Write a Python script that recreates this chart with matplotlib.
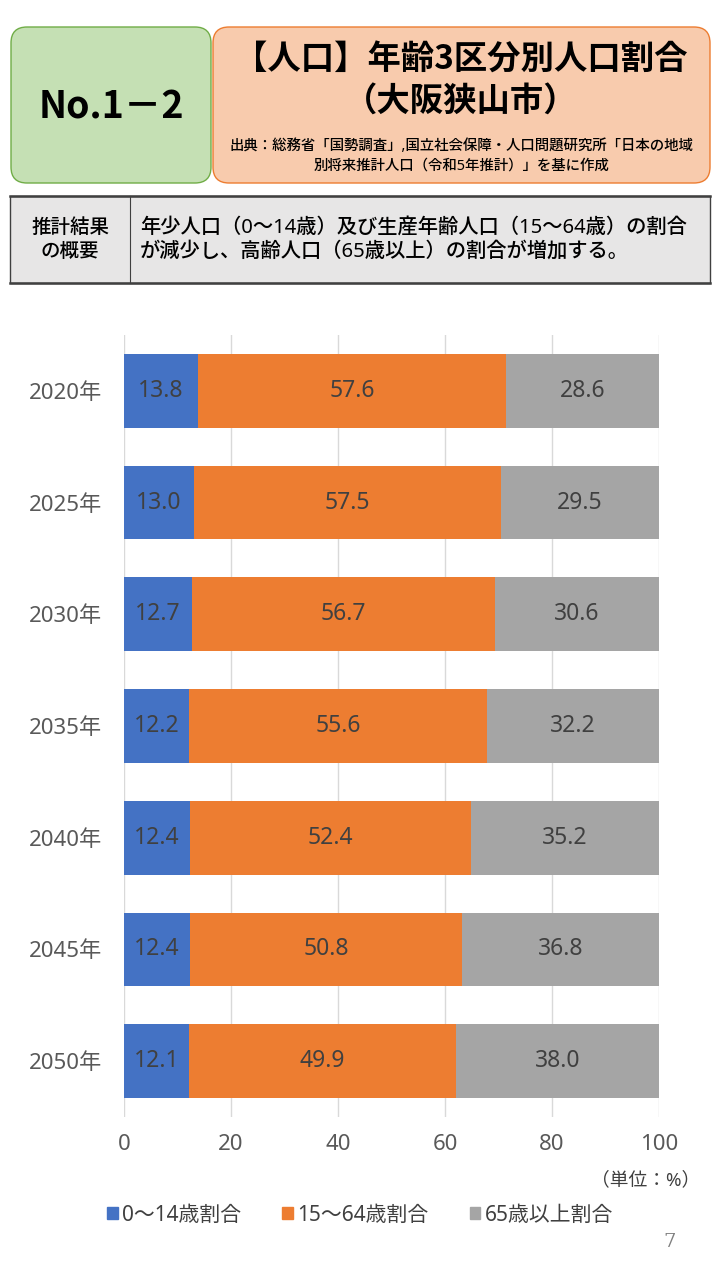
import matplotlib.pyplot as plt
from matplotlib.patches import FancyBboxPatch, Rectangle, Patch

plt.rcParams['font.family'] = ['Noto Sans', 'Noto Sans CJK JP', 'DejaVu Sans']
BOLD = ['Noto Sans CJK JP', 'DejaVu Sans']

# data
years = ['2020年', '2025年', '2030年', '2035年', '2040年', '2045年', '2050年']
young = [13.8, 13.0, 12.7, 12.2, 12.4, 12.4, 12.1]
working = [57.6, 57.5, 56.7, 55.6, 52.4, 50.8, 49.9]
elderly = [28.6, 29.5, 30.6, 32.2, 35.2, 36.8, 38.0]
series_names = ['0～14歳割合', '15～64歳割合', '65歳以上割合']
colors = ['#4472C4', '#ED7D31', '#A5A5A5']
xticks = [0, 20, 40, 60, 80, 100]

fig = plt.figure(figsize=(7.2, 12.8), dpi=100)
fig.patch.set_facecolor('white')

# background axes in pixel coords for the header
bg = fig.add_axes([0, 0, 1, 1])
bg.set_xlim(0, 720)
bg.set_ylim(1280, 0)
bg.axis('off')

# green box
bg.add_patch(FancyBboxPatch((11, 27), 200, 156, boxstyle='round,pad=0,rounding_size=16',
                            fc='#C5E0B4', ec='#70AD47', lw=1))
bg.text(111, 107, 'No.1－2', ha='center', va='center', fontsize=27, fontweight='bold',
        family=BOLD)

# orange box
bg.add_patch(FancyBboxPatch((213, 27), 497, 156, boxstyle='round,pad=0,rounding_size=16',
                            fc='#F8CBAD', ec='#ED7D31', lw=1))
bg.text(461, 60, '【人口】年齢3区分別人口割合', ha='center', va='center',
        fontsize=24, fontweight='bold', family=BOLD)
bg.text(461, 101, '（大阪狭山市）', ha='center', va='center',
        fontsize=24, fontweight='bold', family=BOLD)
bg.text(461, 147, '出典：総務省「国勢調査」,国立社会保障・人口問題研究所「日本の地域',
        ha='center', va='center', fontsize=10.4, fontweight='medium')
bg.text(461, 166, '別将来推計人口（令和5年推計）」を基に作成',
        ha='center', va='center', fontsize=10.4, fontweight='medium')

# summary table
bg.add_patch(Rectangle((10, 196), 700, 87, fc='#E7E6E6', ec='#404040', lw=1))
bg.plot([10, 710], [196, 196], color='#404040', lw=1.8)
bg.plot([10, 710], [283, 283], color='#404040', lw=1.8)
bg.plot([130, 130], [196, 283], color='#404040', lw=0.8)
bg.text(70, 228, '推計結果', ha='center', va='center', fontsize=14, fontweight='medium')
bg.text(70, 252, 'の概要', ha='center', va='center', fontsize=14, fontweight='medium')
bg.text(140, 228, '年少人口（0～14歳）及び生産年齢人口（15～64歳）の割合',
        ha='left', va='center', fontsize=14.6, fontweight='medium')
bg.text(140, 252, 'が減少し、高齢人口（65歳以上）の割合が増加する。',
        ha='left', va='center', fontsize=14.6, fontweight='medium')

# chart
ax = fig.add_axes([124 / 720, 1 - 1117 / 1280, 535 / 720, (1117 - 335) / 1280])
pos = list(range(len(years)))
left = [0] * len(years)
for vals, c, name in zip([young, working, elderly], colors, series_names):
    bars = ax.barh(pos, vals, left=left, height=0.66, color=c, label=name, zorder=3)
    for b, v, l in zip(bars, vals, left):
        ax.text(l + v / 2, b.get_y() + b.get_height() / 2, f'{v:.1f}',
                ha='center', va='center', fontsize=16.5, color='#404040', zorder=4)
    left = [l + v for l, v in zip(left, vals)]

ax.set_ylim(len(years) - 0.5, -0.5)
ax.set_xlim(0, 100)
ax.set_yticks(pos)
ax.set_yticklabels(years, fontsize=16, color='#595959')
ax.set_xticks(xticks)
ax.set_xticklabels([str(t) for t in xticks], fontsize=16, color='#595959')
ax.tick_params(length=0)
ax.tick_params(axis='x', pad=12)
ax.tick_params(axis='y', pad=16)
ax.grid(axis='x', color='#D9D9D9', lw=1, zorder=0)
for s in ax.spines.values():
    s.set_visible(False)

bg.text(700, 1180, '（単位：%）', ha='right', va='center', fontsize=13.5, color='#404040')

handles = [Patch(color=c) for c in colors]
fig.legend(handles, series_names, loc='center', bbox_to_anchor=(0.5, 1 - 1215 / 1280),
           ncol=3, frameon=False, fontsize=15, handlelength=0.5, handleheight=0.5,
           handletextpad=0.2, columnspacing=2.0, labelcolor='#404040')

bg.text(670, 1242, '7', ha='center', va='center', fontsize=14, color='#7F7F7F',
        family='DejaVu Serif')

fig.savefig('out.png', dpi=100)
